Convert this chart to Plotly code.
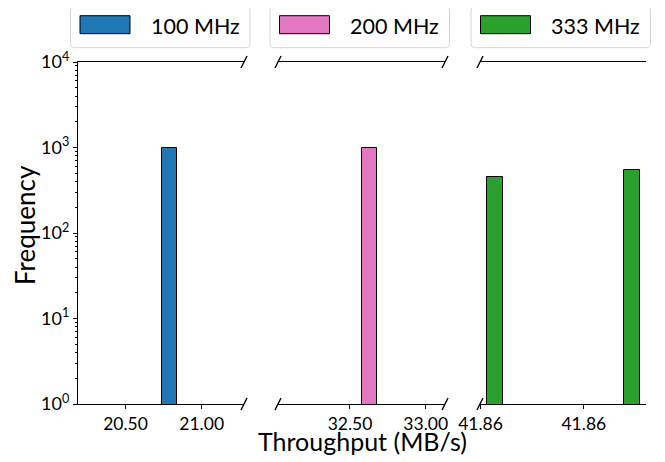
import plotly.graph_objects as go

# ---------------- data ----------------
labels = ["100 MHz", "200 MHz", "333 MHz"]
colors = ["#1f77b4", "#e377c2", "#2ca02c"]

# histogram bins (left edge, right edge) and counts for each clock frequency
p1_bin_left = [20.737]
p1_bin_right = [20.839]
p1_counts = [1000]

p2_bin_left = [32.581]
p2_bin_right = [32.680]
p2_counts = [1000]

p3_bin_left = [41.858195, 41.862162]
p3_bin_right = [41.858648, 41.862618]
p3_counts = [448, 552]

p1_ticks = [20.50, 21.00]
p2_ticks = [32.50, 33.00]
p3_ticks = [41.858, 41.861]

y_ticks = [1, 10, 100, 1000, 10000]
y_ticktext = ["10<sup>0</sup>", "10<sup>1</sup>", "10<sup>2</sup>", "10<sup>3</sup>", "10<sup>4</sup>"]

p1_range = [20.188, 21.278]
p2_range = [32.0245, 33.1275]
p3_range = [41.857985, 41.862806]

# ---------------- layout geometry (page pixels) ----------------
PAGE_W, PAGE_H = 665, 462
OFF = 8  # default body margin of the html page
W, H = PAGE_W - OFF, PAGE_H - OFF
# plot area in page pixels: x 78..646, y 62..404
L, T = 78 - OFF, 62 - OFF
R, B = PAGE_W - 646, PAGE_H - 404
PW, PH = W - L - R, H - T - B


def xp(px):  # page px -> paper
    return (px - OFF - L) / PW


def yp(py):  # page px -> paper
    return (H - B - (py - OFF)) / PH


dom1 = [xp(78), xp(244)]
dom2 = [xp(278), xp(445)]
dom3 = [xp(480), xp(646)]

FONT = "Lato, 'Open Sans', sans-serif"

fig = go.Figure()

panels = [
    (p1_bin_left, p1_bin_right, p1_counts, "x"),
    (p2_bin_left, p2_bin_right, p2_counts, "x2"),
    (p3_bin_left, p3_bin_right, p3_counts, "x3"),
]
for (lft, rgt, cnt, xa), lab, col in zip(panels, labels, colors):
    centers = [(a + b) / 2 for a, b in zip(lft, rgt)]
    widths = [b - a for a, b in zip(lft, rgt)]
    fig.add_trace(go.Bar(
        x=centers, y=cnt, width=widths, name=lab,
        marker=dict(color=col, line=dict(color="black", width=1)),
        xaxis=xa, yaxis="y", showlegend=False,
    ))

minor_vals = [m * 10 ** e for e in range(0, 4) for m in range(2, 10)]

common_x = dict(
    showline=True, linecolor="black", linewidth=1.3, mirror=True,
    ticks="outside", ticklen=4, tickwidth=1, tickcolor="black",
    showgrid=False, zeroline=False, tickformat=".2f", automargin=False,
    tickfont=dict(family=FONT, size=17.5, color="black"),
    anchor="y",
)
y_common = dict(
    type="log", range=[0, 4], showline=True, linecolor="black", linewidth=1.3,
    ticks="outside", ticklen=4, tickwidth=1, tickcolor="black",
    showgrid=False, zeroline=False, automargin=False,
    tickmode="array", tickvals=y_ticks, ticktext=y_ticktext,
    minor=dict(tickmode="array", tickvals=minor_vals, ticks="outside",
               ticklen=2, tickwidth=0.8, tickcolor="black", showgrid=False),
)

fig.update_layout(
    template="none",
    width=W, height=H,
    margin=dict(l=L, r=R, t=T, b=B, autoexpand=False),
    paper_bgcolor="white", plot_bgcolor="white",
    bargap=0,
    xaxis=dict(domain=dom1, range=p1_range, tickmode="array", tickvals=p1_ticks, **common_x),
    xaxis2=dict(domain=dom2, range=p2_range, tickmode="array", tickvals=p2_ticks, **common_x),
    xaxis3=dict(domain=dom3, range=p3_range, tickmode="array", tickvals=p3_ticks, **common_x),
    yaxis=dict(anchor="x", side="left",
               tickfont=dict(family=FONT, size=18, color="black"), **y_common),
    yaxis2=dict(anchor="x3", side="right", overlaying="y", showticklabels=False,
                **y_common),
)

shapes = []
annotations = []

# broken-axis diagonal marks
dx, dy = 3 / PW, 6 / PH
for xe in [dom1[1], dom2[0], dom2[1], dom3[0]]:
    for ye in [0, 1]:
        shapes.append(dict(type="line", xref="paper", yref="paper",
                           x0=xe - dx, y0=ye - dy, x1=xe + dx, y1=ye + dy,
                           line=dict(color="black", width=1.4)))


def rounded_rect(x0, y0, x1, y1, r):
    rx, ry = r / PW, r / PH
    X0, X1 = xp(x0), xp(x1)
    Y0, Y1 = yp(y1), yp(y0)  # bottom, top in paper
    return (f"M {X0+rx},{Y0} L {X1-rx},{Y0} Q {X1},{Y0} {X1},{Y0+ry} "
            f"L {X1},{Y1-ry} Q {X1},{Y1} {X1-rx},{Y1} L {X0+rx},{Y1} "
            f"Q {X0},{Y1} {X0},{Y1-ry} L {X0},{Y0+ry} Q {X0},{Y0} {X0+rx},{Y0} Z")


# legends: one box per panel
box_lefts = [70.5, 270.0, 471.0]
box_w = 179.5
for bl, lab, col in zip(box_lefts, labels, colors):
    shapes.append(dict(type="path", xref="paper", yref="paper",
                       path=rounded_rect(bl, 6, bl + box_w, 47.7, 4),
                       line=dict(color="#d5d5d5", width=1), fillcolor="white"))
    shapes.append(dict(type="rect", xref="paper", yref="paper",
                       x0=xp(bl + 9.5), x1=xp(bl + 59.5), y0=yp(33.7), y1=yp(15.7),
                       line=dict(color="black", width=1), fillcolor=col))
    annotations.append(dict(text=lab, xref="paper", yref="paper",
                            x=xp(bl + 124.5), y=yp(26.5), xanchor="center", yanchor="middle",
                            showarrow=False, font=dict(family=FONT, size=21.5, color="black")))

annotations.append(dict(text="Throughput (MB/s)", xref="paper", yref="paper",
                        x=xp(362), y=yp(441), xanchor="center", yanchor="middle",
                        showarrow=False, font=dict(family=FONT, size=25, color="black")))
annotations.append(dict(text="Frequency", xref="paper", yref="paper",
                        x=xp(25), y=yp(225), xanchor="center", yanchor="middle", textangle=-90,
                        showarrow=False, font=dict(family=FONT, size=26, color="black")))

fig.update_layout(shapes=shapes, annotations=annotations)

fig.write_html("out.html")
